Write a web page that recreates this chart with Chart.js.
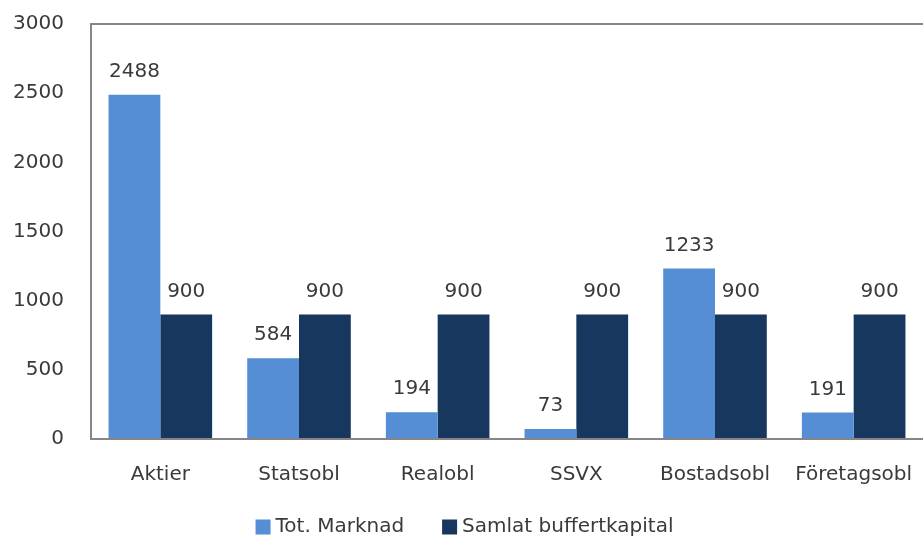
<!DOCTYPE html>
<html>
<head>
<meta charset="utf-8">
<script src="https://cdn.jsdelivr.net/npm/chart.js@4"></script>
<style>
    html, body { margin: 0; padding: 0; background: #ffffff; }
    #wrap { width: 923px; height: 541px; }
</style>
</head>
<body>
<div id="wrap"><canvas id="chart"></canvas></div>
<script>
const categories = ['Aktier', 'Statsobl', 'Realobl', 'SSVX', 'Bostadsobl', 'Företagsobl'];
const totMarknad = [2488, 584, 194, 73, 1233, 191];
const buffertkapital = [900, 900, 900, 900, 900, 900];
const yTicks = [0, 500, 1000, 1500, 2000, 2500, 3000];

const LIGHT = '#558ed5';
const NAVY = '#17375e';
const TEXT = '#3a3a3a';
const FRAME = '#868686';
const FONT = { family: 'DejaVu Sans', size: 20 };
const fontStr = `${FONT.size}px ${FONT.family}`;

// values over each bar
const barLabels = {
    id: 'barLabels',
    afterDatasetsDraw(chart) {
        const { ctx } = chart;
        ctx.save();
        ctx.fillStyle = TEXT;
        ctx.font = fontStr;
        ctx.textAlign = 'center';
        ctx.textBaseline = 'bottom';
        chart.data.datasets.forEach((ds, i) => {
            chart.getDatasetMeta(i).data.forEach((bar, j) => {
                ctx.fillText(String(ds.data[j]), bar.x, bar.y - 13);
            });
        });
        ctx.restore();
    },
};

// Excel style legend row, wider gap between the two entries than chart.js gives
const bottomLegend = {
    id: 'bottomLegend',
    afterDraw(chart) {
        const { ctx } = chart;
        const box = 15;
        const gap = 5;
        const spacing = 38;
        ctx.save();
        ctx.font = fontStr;
        ctx.textBaseline = 'middle';
        const items = chart.data.datasets.map((ds) => ({
            text: ds.label,
            color: ds.backgroundColor,
            width: box + gap + ctx.measureText(ds.label).width,
        }));
        const total = items.reduce((sum, it) => sum + it.width, 0) + spacing * (items.length - 1);
        let x = chart.width / 2 + 3 - total / 2;
        const y = chart.height - 14;
        items.forEach((it) => {
            ctx.fillStyle = it.color;
            ctx.fillRect(x, y - box / 2, box, box);
            ctx.fillStyle = TEXT;
            ctx.fillText(it.text, x + box + gap, y);
            x += it.width + spacing;
        });
        ctx.restore();
    },
};

new Chart(document.getElementById('chart'), {
    type: 'bar',
    data: {
        labels: categories,
        datasets: [
            { label: 'Tot. Marknad', data: totMarknad, backgroundColor: LIGHT },
            { label: 'Samlat buffertkapital', data: buffertkapital, backgroundColor: NAVY },
        ],
    },
    options: {
        responsive: true,
        maintainAspectRatio: false,
        animation: false,
        categoryPercentage: 0.747,
        barPercentage: 1,
        layout: { padding: { top: 24, right: -3, left: 0, bottom: 40 } },
        plugins: {
            legend: { display: false },
            tooltip: { enabled: false },
        },
        scales: {
            x: {
                grid: { display: false, drawTicks: false },
                border: { color: FRAME, width: 2 },
                ticks: { color: TEXT, font: FONT, padding: 24, autoSkip: false, maxRotation: 0 },
                afterFit: (axis) => {
                    axis.height = 62;
                    axis.paddingLeft = 0;
                    axis.paddingRight = 0;
                },
            },
            y: {
                min: 0,
                max: 3000,
                afterBuildTicks: (axis) => { axis.ticks = yTicks.map((value) => ({ value })); },
                afterFit: (axis) => {
                    axis.width = 91;
                    axis.paddingTop = 0;
                    axis.paddingBottom = 0;
                },
                grid: {
                    drawTicks: false,
                    color: (c) => (c.tick && c.tick.value === 3000 ? FRAME : 'transparent'),
                    lineWidth: 2,
                },
                border: { color: FRAME, width: 2 },
                ticks: {
                    color: TEXT,
                    font: FONT,
                    padding: 27,
                    callback: (value) => String(value),
                },
            },
        },
    },
    plugins: [barLabels, bottomLegend],
});
</script>
</body>
</html>
